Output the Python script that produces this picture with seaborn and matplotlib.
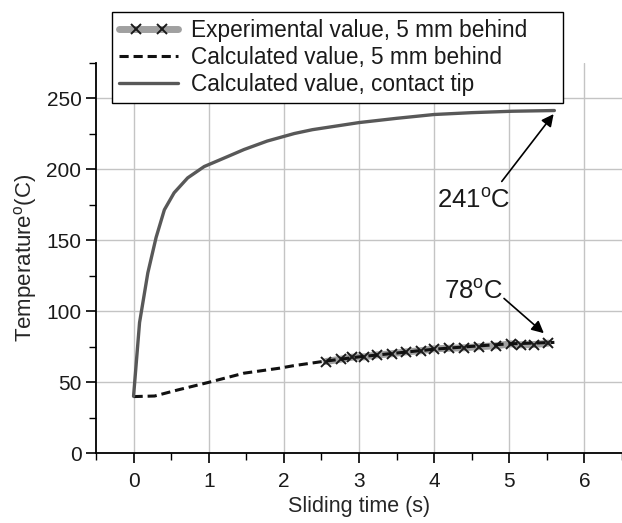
import numpy as np
import pandas as pd
import matplotlib
matplotlib.use("Agg")
import matplotlib.pyplot as plt
import seaborn as sns
from matplotlib.ticker import MultipleLocator
from matplotlib.lines import Line2D
from matplotlib.legend_handler import HandlerLine2D

# contact tip, calculated
tip_time = [0, 0.08, 0.19, 0.30, 0.41, 0.54, 0.72, 0.94, 1.25, 1.47, 1.78, 2.14,
            2.38, 3.0, 3.5, 4.0, 4.5, 5.04, 5.6]
tip_temp = [40, 92, 127, 152, 171.5, 183.5, 194, 202, 209, 214, 220, 225.3,
            228, 233, 236, 238.7, 240, 241, 241.5]

# 5 mm behind, calculated
calc_time = [0, 0.28, 0.59, 0.99, 1.47, 1.94, 2.12, 2.51, 3.0, 3.5, 4.0, 4.5, 5.0, 5.6]
calc_temp = [39.8, 40.2, 44.5, 49.7, 56.3, 59.8, 61.5, 64.5, 67.8, 70.5, 73.2, 75.2, 77.0, 78.0]

# 5 mm behind, experimental
exp_time = [2.56, 2.76, 2.91, 3.07, 3.24, 3.44, 3.62, 3.82, 4.0, 4.2, 4.4,
            4.6, 4.82, 5.02, 5.15, 5.33, 5.52]
exp_temp = [64.5, 66.2, 67.6, 67.8, 69.2, 70.0, 71.3, 72.1, 73.5, 73.9, 74.2,
            75.0, 75.6, 77.0, 76.3, 76.5, 77.5]

labels = ["Experimental value, 5 mm behind", "Calculated value, 5 mm behind",
          "Calculated value, contact tip"]

sns.set_theme(style="ticks")
plt.rcParams["font.family"] = ["Liberation Sans", "DejaVu Sans"]
plt.rcParams["mathtext.fontset"] = "custom"
plt.rcParams["mathtext.rm"] = "Liberation Sans"
plt.rcParams["text.color"] = "#1a1a1a"

fig = plt.figure(figsize=(6.22, 5.23), dpi=100)
ax = fig.add_axes([0.1543, 0.1338, 0.8457, 0.7457])

sns.lineplot(x=exp_time, y=exp_temp, ax=ax, color="#a0a0a0", linewidth=5,
             marker="x", markersize=7, markeredgewidth=1.4, markeredgecolor="#1a1a1a",
             zorder=2)
sns.lineplot(x=calc_time, y=calc_temp, ax=ax, color="#111111", linewidth=2.2, zorder=3)
ax.lines[-1].set_dashes((3, 1.6))
sns.lineplot(x=tip_time, y=tip_temp, ax=ax, color="#585858", linewidth=2.4, zorder=3)

ax.set_xlim(-0.5, 6.5)
ax.set_ylim(0, 275)
ax.xaxis.set_major_locator(MultipleLocator(1))
ax.xaxis.set_minor_locator(MultipleLocator(0.5))
ax.yaxis.set_major_locator(MultipleLocator(50))
ax.yaxis.set_minor_locator(MultipleLocator(25))
ax.grid(True, which="major", color="#c4c4c4", linewidth=1)
ax.set_axisbelow(True)
for s in ["top", "right"]:
    ax.spines[s].set_visible(False)
for s in ["left", "bottom"]:
    ax.spines[s].set_color("black")
    ax.spines[s].set_linewidth(1.3)
ax.tick_params(which="major", direction="out", length=7, width=1.2, labelsize=15,
               colors="black", labelcolor="#1a1a1a")
ax.tick_params(which="minor", direction="out", length=5, width=1.0, colors="black")
ax.tick_params(axis="x", pad=7)

ax.set_xlabel("Sliding time (s)", fontsize=15.5, labelpad=3)
ax.set_ylabel("Temperature$^{\\rm o}$(C)", fontsize=16, labelpad=5)

# legend: gray band with two x marks sitting inside it
band = Line2D([], [], color="#a0a0a0", linewidth=5)
marks = Line2D([], [], linestyle="none", marker="x", markersize=7,
               markeredgewidth=1.4, markeredgecolor="#1a1a1a")
handles = [(band, marks), ax.lines[1], ax.lines[2]]
leg = ax.legend(handles, labels, loc="upper left",
                bbox_to_anchor=(0.18, 0.5, 0.725, 0.477), bbox_transform=fig.transFigure,
                mode="expand", fontsize=16.3, frameon=True, fancybox=False,
                edgecolor="black", framealpha=1, borderaxespad=0, handlelength=2.6,
                handletextpad=0.55, labelspacing=0.16, borderpad=0.32,
                handler_map={marks: HandlerLine2D(numpoints=2, marker_pad=0.72)})
leg.get_frame().set_linewidth(1.0)
leg.set_zorder(10)

arrow = dict(arrowstyle="-|>", color="black", lw=1.2, mutation_scale=18, shrinkA=0, shrinkB=0)
ax.text(4.53, 178, "241$^{\\rm o}$C", fontsize=18.5, ha="center", va="center")
ax.annotate("", xy=(5.59, 239), xytext=(4.9, 191.5), arrowprops=arrow)
ax.text(4.53, 114, "78$^{\\rm o}$C", fontsize=18.5, ha="center", va="center")
ax.annotate("", xy=(5.46, 84.5), xytext=(4.93, 109), arrowprops=arrow)

fig.savefig("out.png", dpi=100)
